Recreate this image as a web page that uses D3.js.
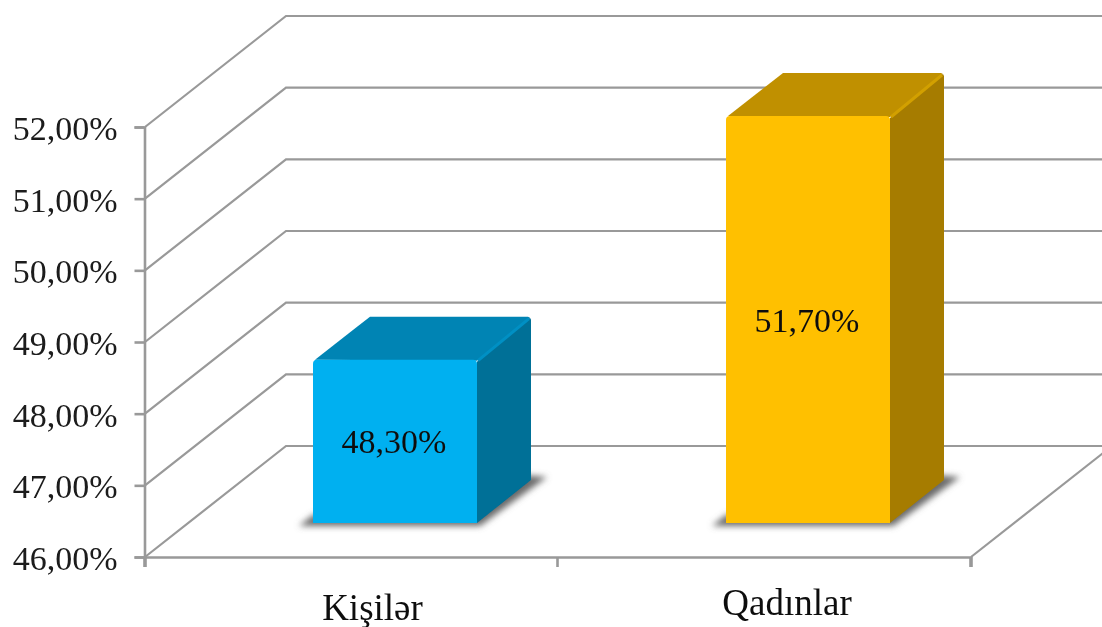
<!DOCTYPE html>
<html><head><meta charset="utf-8">
<script src="https://cdn.jsdelivr.net/npm/d3@7"></script>
<style>html,body{margin:0;padding:0;background:#fff;overflow:hidden}svg{display:block}text{font-family:"Liberation Serif",serif;fill:#1a1a1a}</style>
</head><body><svg id="c" width="1102" height="627"></svg>
<script>
const categories = ["Kişilər", "Qadınlar"];
const values = [48.3, 51.7];
const valueLabels = ["48,30%", "51,70%"];
const yTicks = [46, 47, 48, 49, 50, 51, 52];
const frontColors = ["#00B0F0", "#FFC000"];
const topColors = ["#0084B4", "#C09000"];
const sideColors = ["#006F97", "#A67C00"];
const bevelColors = ["#0090C4", "#D2A000"];
const categoryBaselines = [620, 615];

const W = 1102, H = 627;
const svg = d3.select("#c");
const defs = svg.append("defs");
defs.append("filter").attr("id","soft").attr("x","-2%").attr("y","-2%").attr("width","104%").attr("height","104%")
  .append("feGaussianBlur").attr("stdDeviation",0.6);
defs.append("filter").attr("id","shadow").attr("x","-20%").attr("y","-20%").attr("width","140%").attr("height","140%")
  .append("feGaussianBlur").attr("stdDeviation",3.2);

const y = d3.scaleLinear().domain([46,52]).range([557,127]);
const x = d3.scaleBand().domain(categories).range([145,971]);
const wallDx = 141, wallDy = -111;
const barDx = 54, barDy = -43, barWidth = 164, barLift = 33.5;
const line = d3.line();
const root = svg.append("g").attr("filter","url(#soft)");
const gridColor = "#999999";

// side wall and back wall gridlines
root.append("g").selectAll("path").data(yTicks).join("path")
  .attr("fill","none").attr("stroke",gridColor).attr("stroke-width",2.2)
  .attr("d", v => line([[x.range()[0],y(v)],[x.range()[0]+wallDx,y(v)+wallDy],[W+5,y(v)+wallDy]]));
// floor right edge
root.append("path").attr("fill","none").attr("stroke",gridColor).attr("stroke-width",2.2)
  .attr("d", line([[x.range()[1],y(46)],[x.range()[1]+wallDx,y(46)+wallDy]]));

// axes
const yAxis = d3.axisLeft(y).tickValues(yTicks).tickSize(10).tickPadding(17)
  .tickFormat(v => d3.format(".2f")(v).replace(".",",") + "%");
const gy = root.append("g").attr("transform",`translate(${x.range()[0]-0.5},0)`).call(yAxis);
gy.selectAll("text").attr("font-size",34).attr("dy","0.37em").style("font-family",'"Liberation Serif",serif');
gy.selectAll("line,path").attr("stroke",gridColor).attr("stroke-width",2.6);

const xAxis = d3.axisBottom(x).tickValues([]).tickSize(10);
const gx = root.append("g").attr("transform",`translate(0,${y(46)})`).call(xAxis);
gx.selectAll("path").attr("stroke",gridColor).attr("stroke-width",2.6);
root.append("g").selectAll("line").data([x.range()[0], x.range()[0]+x.bandwidth(), x.range()[1]]).join("line")
  .attr("x1",d=>d-0.5).attr("x2",d=>d-0.5).attr("y1",y(46)).attr("y2",y(46)+10)
  .attr("stroke",gridColor).attr("stroke-width",2.6);

// bars
const barLeft = c => x(c) + x.bandwidth()/2 + 43.5 - barWidth/2;
const base = y(46) - barLift - 0.5;
const barTop = v => y(v) - barLift + 1;

const shadows = root.append("g").attr("filter","url(#shadow)");
categories.forEach((c,i) => {
  const l = barLeft(c), r = l + barWidth;
  shadows.append("path").attr("fill","#6a6a6a")
    .attr("d", line([[l-14,base+3],[r+3,base+3],[r+barDx+16,base+barDy-3],[r+barDx-20,base+barDy-6],[l,base-8]])+"Z");
});

const bars = root.append("g").selectAll("g").data(categories).join("g");
bars.each(function(c,i){
  const g = d3.select(this), l = barLeft(c), r = l + barWidth, t = barTop(values[i]);
  g.append("path").attr("fill",sideColors[i])
    .attr("d", line([[r,t+2],[r+barDx-1,t+barDy+1],[r+barDx,t+barDy+3],[r+barDx,base+barDy],[r,base]])+"Z");
  g.append("path").attr("fill",topColors[i])
    .attr("d", line([[l+2,t],[l+barDx+3,t+barDy],[r+barDx-3,t+barDy],[r+barDx-1,t+barDy+1],[r,t+1]])+"Z");
  g.append("path").attr("fill","none").attr("stroke",bevelColors[i]).attr("stroke-width",3)
    .attr("d", line([[r+1,t+1],[r+barDx-2,t+barDy+2]]));
  g.append("path").attr("fill",frontColors[i])
    .attr("d", `M${l},${base}V${t+4}Q${l},${t} ${l+4},${t}H${r-4}Q${r},${t} ${r},${t+4}V${base}Z`);
  g.append("text").attr("x",l+barWidth/2-1).attr("y",(t+base)/2+12)
    .attr("text-anchor","middle").attr("font-size",34).style("fill","#111").text(valueLabels[i]);
  g.append("text").attr("x",x(c)+x.bandwidth()/2+ (i===0?21:22.5)).attr("y",categoryBaselines[i])
    .attr("text-anchor","middle").attr("font-size",37).style("fill","#111").text(c);
});
</script></body></html>
